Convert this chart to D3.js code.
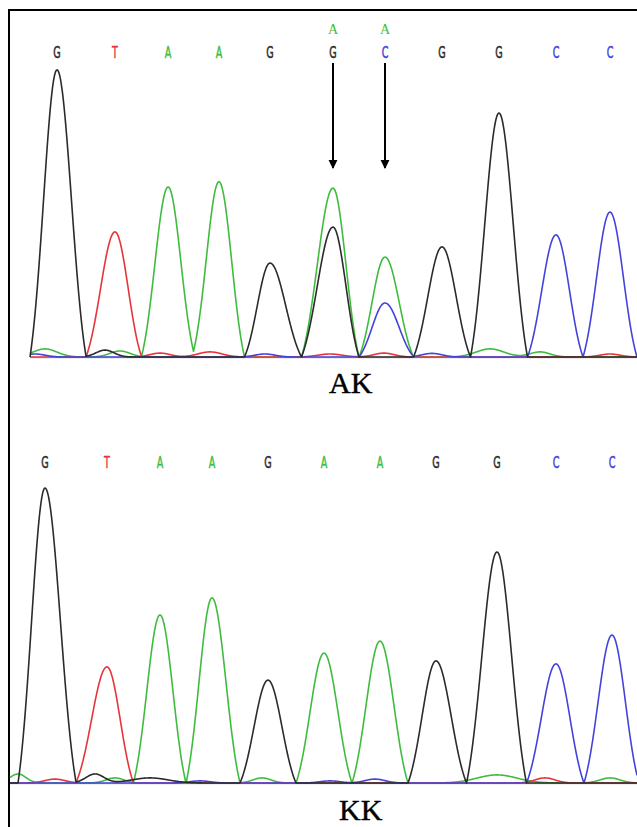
<!DOCTYPE html>
<html>
<head>
<meta charset="utf-8">
<script src="https://cdn.jsdelivr.net/npm/d3@7"></script>
<style>
  body { margin: 0; background: #fff; }
</style>
</head>
<body>
<svg id="chart"></svg>
<script>
// ---- AK trace (top) : base calls, scan positions, peak heights ----
const akCalls = ["G", "T", "A", "A", "G", "G", "C", "G", "G", "C", "C"];
const akSecond = ["", "", "", "", "", "A", "A", "", "", "", ""];
const akScan = [27, 85, 138, 189, 240, 303, 355, 412, 469, 526, 580];
const akPeaksG = [[27, 957], [240, 313], [303, 433], [412, 367], [469, 813]];
const akPeaksA = [[138, 563], [189, 583], [303, 563], [355, 333]];
const akPeaksT = [[85, 417]];
const akPeaksC = [[355, 180], [526, 407], [580, 483]];
// small background bumps [scan, height, spread]
const akNoiseG = [[75, 23, 9]];
const akNoiseA = [[15, 27, 12], [90, 20, 10], [160, 20, 12], [460, 27, 14], [510, 17, 10]];
const akNoiseT = [[130, 13, 10], [180, 17, 12], [300, 10, 12], [354, 13, 10], [580, 10, 10]];
const akNoiseC = [[5, 10, 10], [235, 10, 10], [402, 12, 10]];

// ---- KK trace (bottom) ----
const kkCalls = ["G", "T", "A", "A", "G", "A", "A", "G", "G", "C", "C"];
const kkScan = [35, 97, 150, 202, 258, 314, 370, 426, 487, 546, 602];
const kkPeaksG = [[35, 983], [258, 343], [426, 407], [487, 770]];
const kkPeaksA = [[150, 560], [202, 617], [314, 433], [370, 473]];
const kkPeaksT = [[97, 387]];
const kkPeaksC = [[546, 397], [602, 493]];
const kkNoiseG = [[85, 30, 9], [140, 17, 18]];
const kkNoiseA = [[8, 30, 8], [105, 17, 9], [252, 17, 9], [487, 27, 20], [600, 17, 10]];
const kkNoiseT = [[45, 13, 10], [535, 17, 10]];
const kkNoiseC = [[190, 7, 10], [320, 7, 10], [365, 13, 10]];

const width = 637;
const height = 827;
const colors = { G: "#2b2b2b", A: "#3fbc3f", T: "#e6343a", C: "#4343dc" };

const svg = d3.select("#chart").attr("width", width).attr("height", height);

// frame
svg.append("path")
  .attr("d", `M9,${height} V10 H${width}`)
  .attr("fill", "none")
  .attr("stroke", "#000")
  .attr("stroke-width", 2);

svg.append("defs").append("marker")
  .attr("id", "arrow")
  .attr("viewBox", "0 0 10 10")
  .attr("refX", 9).attr("refY", 5)
  .attr("markerWidth", 9).attr("markerHeight", 12)
  .attr("markerUnits", "userSpaceOnUse")
  .attr("orient", "auto")
  .append("path")
  .attr("d", "M0,0 L10,5 L0,10 Z")
  .attr("fill", "#000");

// peak profile: truncated bell that meets the baseline at the valleys
const edge = Math.exp(-2);
const bell = (t) => (Math.abs(t) >= 1 ? 0 : (Math.exp(-2 * t * t) - edge) / (1 - edge));

function trace(peaks, noise, scan, domainMax) {
  const spans = peaks.map(([p]) => {
    const i = scan.indexOf(p);
    const l = i > 0 ? (p - scan[i - 1]) / 2 : 27;
    const r = i < scan.length - 1 ? (scan[i + 1] - p) / 2 : 27;
    return [l, r];
  });
  const pts = [];
  for (let s = 0; s <= domainMax; s += 0.5) {
    let v = 0;
    peaks.forEach(([p, h], k) => {
      const d = s - p;
      v += h * bell(d / (d < 0 ? spans[k][0] : spans[k][1]));
    });
    noise.forEach(([p, h, w]) => { v += h * Math.exp(-((s - p) ** 2) / (2 * w * w)); });
    pts.push([s, v]);
  }
  return pts;
}

function drawPanel(cfg) {
  const x = d3.scaleLinear().domain([0, cfg.domainMax]).range([cfg.left, width]);
  const y = d3.scaleLinear().domain([0, 1000]).range([cfg.baseline, cfg.baseline - 300]);
  const g = svg.append("g");

  g.append("line")
    .attr("x1", cfg.left).attr("x2", width)
    .attr("y1", y(0) + 0.5).attr("y2", y(0) + 0.5)
    .attr("stroke", "#b8b8b8").attr("stroke-width", 1.5);

  const line = d3.line().x((d) => x(d[0])).y((d) => y(d[1]));
  ["A", "T", "C", "G"].forEach((b) => {
    g.append("path")
      .datum(trace(cfg.peaks[b], cfg.noise[b], cfg.scan, cfg.domainMax))
      .attr("d", line)
      .attr("fill", "none")
      .attr("stroke", colors[b])
      .attr("stroke-width", 1.6)
      .attr("stroke-linejoin", "round");
  });

  g.selectAll("text.call")
    .data(cfg.calls)
    .join("text")
    .attr("class", "call")
    .attr("transform", (d, i) => `translate(${x(cfg.scan[i])},${cfg.callY}) scale(0.6,1)`)
    .attr("text-anchor", "middle")
    .attr("font-family", "DejaVu Sans")
    .attr("font-size", 16)
    .attr("fill", (d) => colors[d])
    .attr("stroke", (d) => colors[d])
    .attr("stroke-width", 0.5)
    .text((d) => d);

  g.append("text")
    .attr("x", cfg.labelX)
    .attr("y", cfg.labelY)
    .attr("font-family", "Liberation Serif, Times New Roman, serif")
    .attr("font-size", 30)
    .attr("fill", "#000")
    .attr("stroke", "#000")
    .attr("stroke-width", 0.4)
    .text(cfg.label);

  return x;
}

const xTop = drawPanel({
  left: 30, baseline: 357, domainMax: 607, callY: 58,
  calls: akCalls, scan: akScan,
  peaks: { G: akPeaksG, A: akPeaksA, T: akPeaksT, C: akPeaksC },
  noise: { G: akNoiseG, A: akNoiseA, T: akNoiseT, C: akNoiseC },
  label: "AK", labelX: 329, labelY: 393
});

drawPanel({
  left: 10, baseline: 783, domainMax: 627, callY: 468,
  calls: kkCalls, scan: kkScan,
  peaks: { G: kkPeaksG, A: kkPeaksA, T: kkPeaksT, C: kkPeaksC },
  noise: { G: kkNoiseG, A: kkNoiseA, T: kkNoiseT, C: kkNoiseC },
  label: "KK", labelX: 339, labelY: 820
});

// secondary calls and arrows on the AK trace
akSecond.forEach((b, i) => {
  if (!b) return;
  const px = xTop(akScan[i]);
  svg.append("text")
    .attr("x", px).attr("y", 34)
    .attr("text-anchor", "middle")
    .attr("font-family", "Liberation Serif, serif")
    .attr("font-size", 14)
    .attr("fill", colors[b])
    .text(b);
  svg.append("line")
    .attr("x1", px).attr("x2", px)
    .attr("y1", 63).attr("y2", 168)
    .attr("stroke", "#000")
    .attr("stroke-width", 2)
    .attr("marker-end", "url(#arrow)");
});
</script>
</body>
</html>
